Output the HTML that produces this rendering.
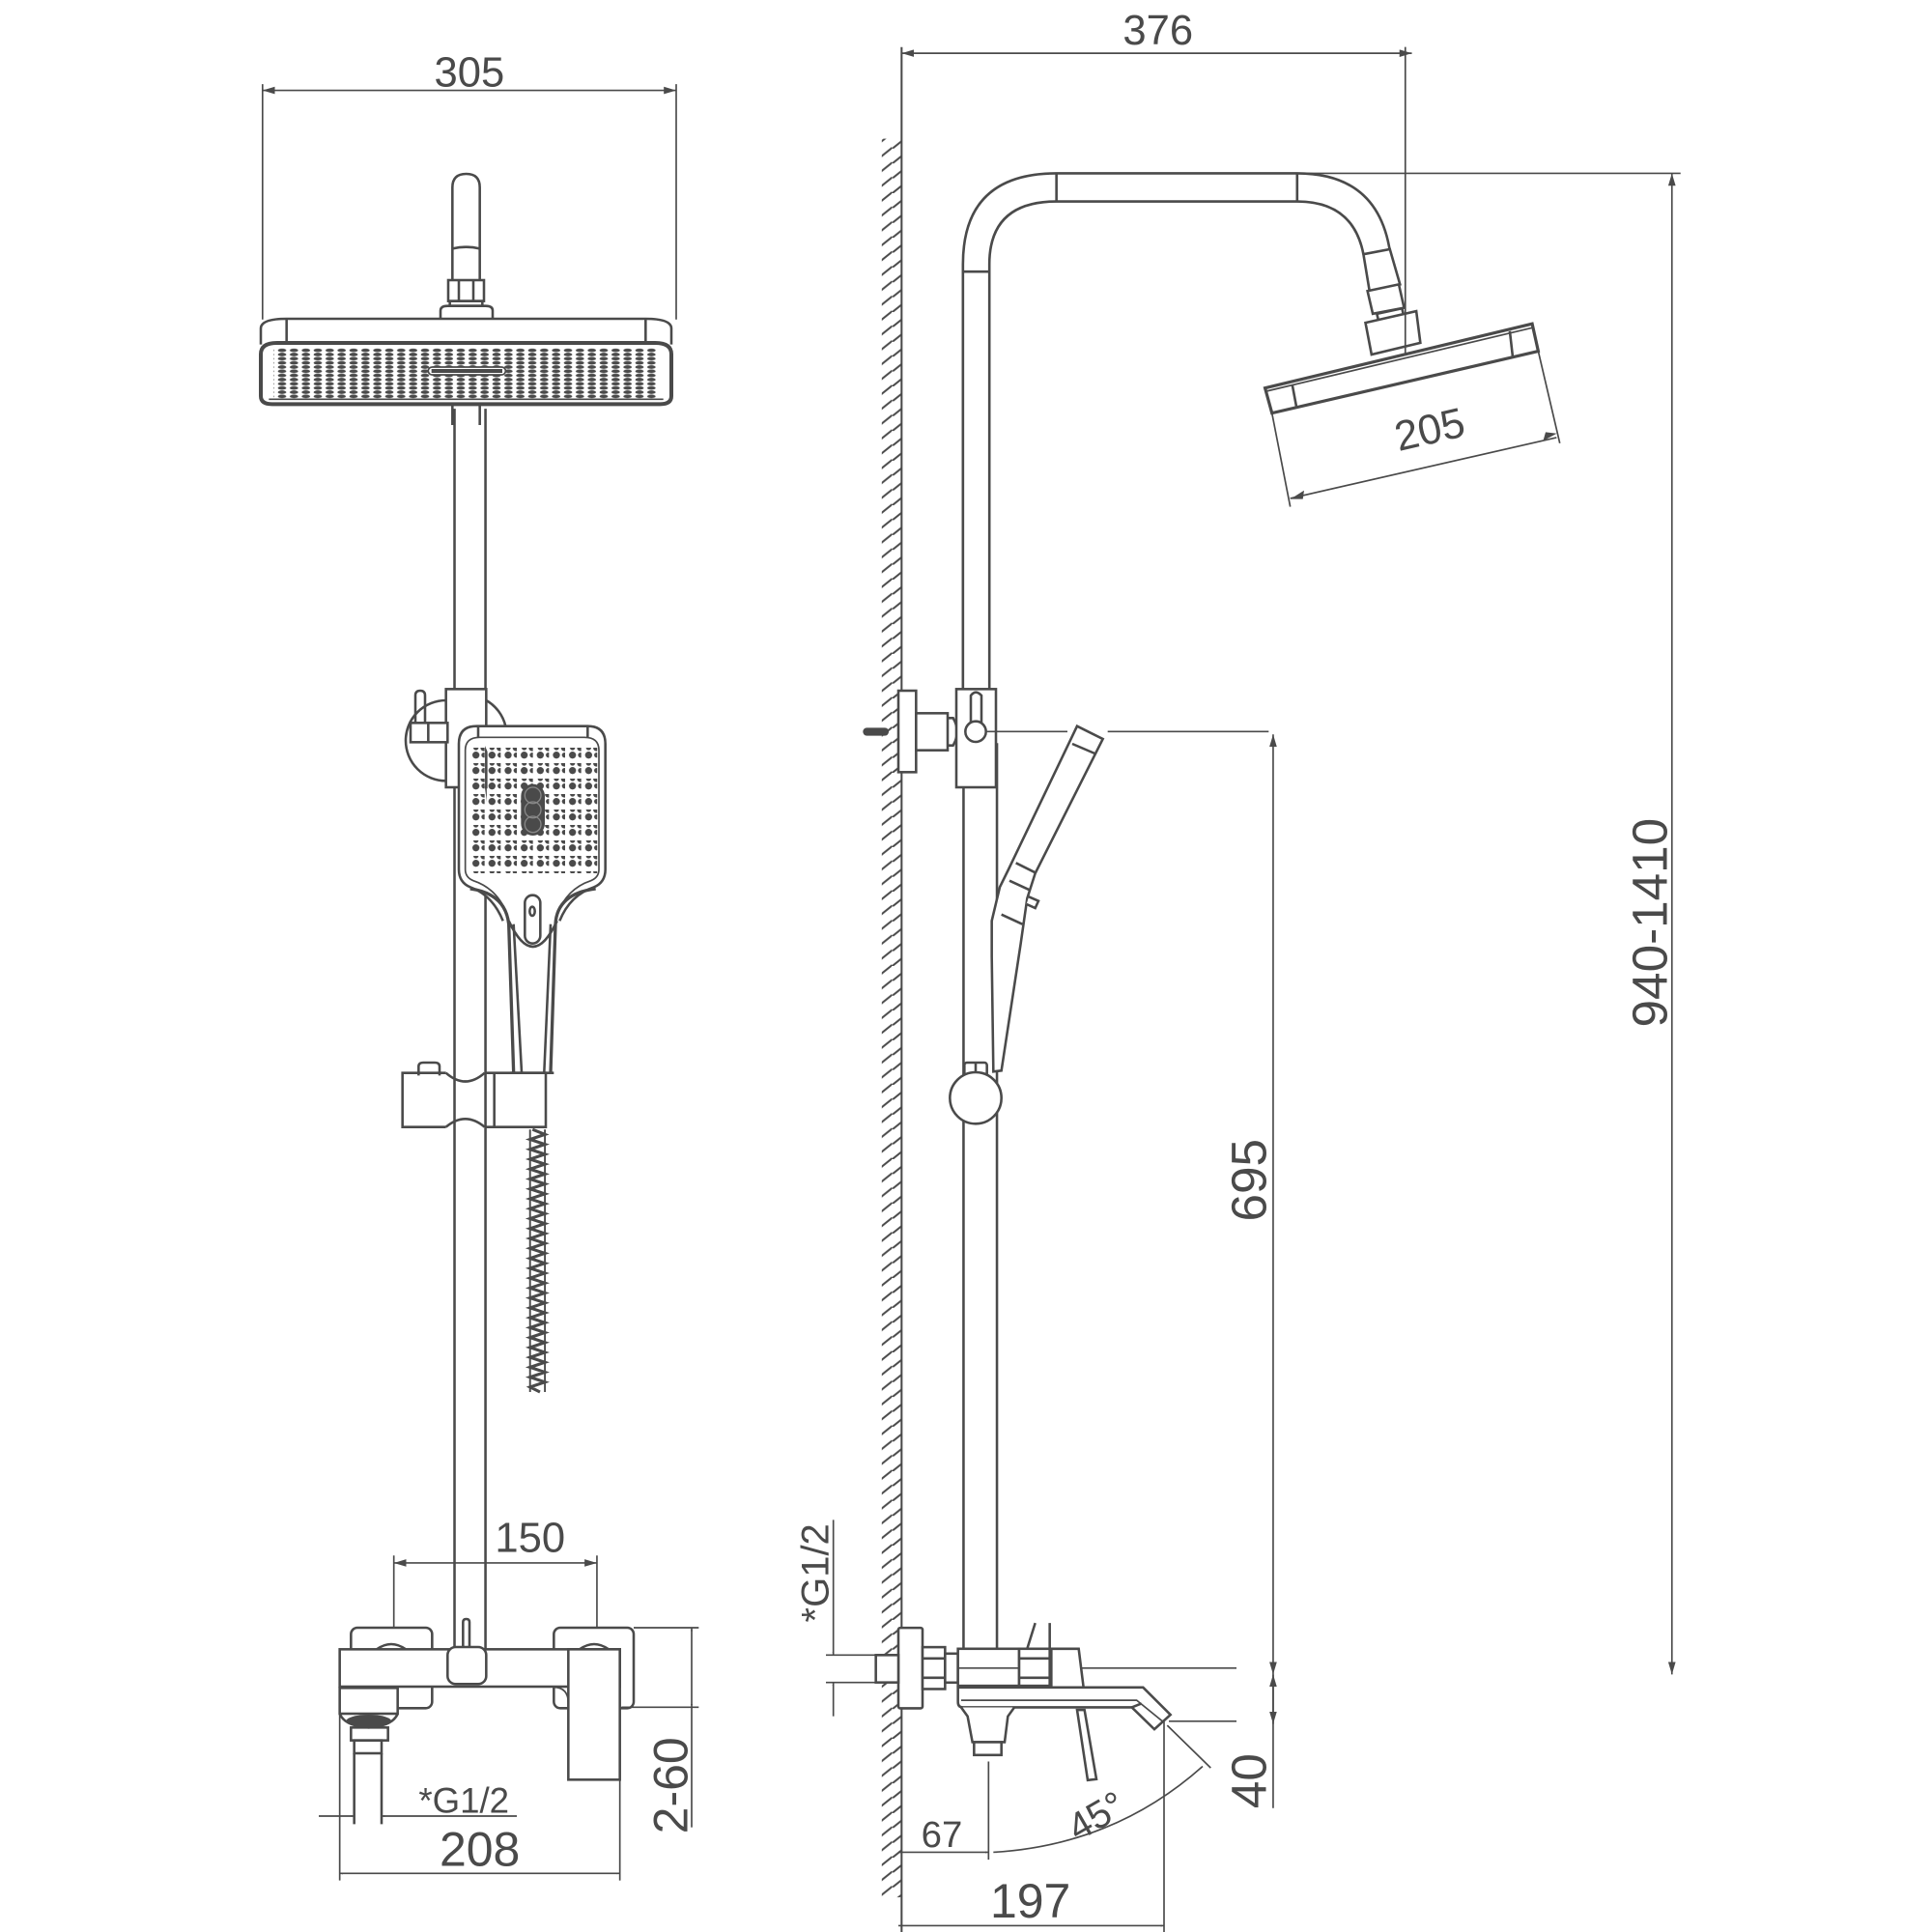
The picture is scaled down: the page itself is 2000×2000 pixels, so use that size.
<!DOCTYPE html>
<html><head><meta charset="utf-8"><style>
html,body{margin:0;padding:0;background:#fff}
svg{display:block}
text{font-family:"Liberation Sans",sans-serif;fill:#4a4a4a;stroke:none}
</style></head><body>
<svg width="2000" height="2000" viewBox="0 0 1560 1560" xmlns="http://www.w3.org/2000/svg">
<defs>
<marker id="a" viewBox="0 0 10 6" refX="10" refY="3" markerWidth="10" markerHeight="6" markerUnits="userSpaceOnUse" orient="auto-start-reverse"><path d="M0,0 L10,3 L0,6 Z" fill="#4a4a4a"/></marker>
<pattern id="hatch" width="16" height="12" patternUnits="userSpaceOnUse"><path d="M-2,14 L18,-2 M-2,26 L18,10" stroke="#4a4a4a" stroke-width="1.6"/></pattern>
<pattern id="hd" width="37" height="13" patternUnits="userSpaceOnUse" x="108" y="182"><ellipse cx="18" cy="6" rx="13" ry="5.5" fill="#4a4a4a"/></pattern>
<pattern id="hs" width="50" height="48" patternUnits="userSpaceOnUse" x="195" y="222"><circle cx="23" cy="23" r="11" fill="#4a4a4a"/><circle cx="48" cy="23" r="8" fill="#4a4a4a"/><circle cx="23" cy="0" r="8" fill="#4a4a4a"/><circle cx="48" cy="0" r="11" fill="#4a4a4a"/></pattern>
</defs>
<g fill="none" stroke="#4a4a4a" stroke-width="2">

<!-- ===== LEFT VIEW ===== -->
<line x1="212" y1="68" x2="212" y2="258" stroke-width="1.3"/>
<line x1="546" y1="68" x2="546" y2="258" stroke-width="1.3"/>
<line x1="212" y1="73" x2="546" y2="73" stroke-width="1.3" marker-start="url(#a)" marker-end="url(#a)"/>
<text x="379" y="70" font-size="34" text-anchor="middle">305</text>

<g transform="translate(312,117) scale(0.26)" stroke-width="7.7">
<path d="M205,420 V132 Q205,90 248,90 Q290,90 290,132 V420"/>
<path d="M205,322 Q248,312 290,322"/>
<rect x="192" y="420" width="111" height="65"/>
<line x1="225" y1="420" x2="225" y2="485"/><line x1="270" y1="420" x2="270" y2="485"/>
<rect x="197" y="485" width="101" height="15"/>
<path d="M168,540 V515 Q168,500 190,500 H308 Q330,500 330,515 V540"/>
</g>

<g transform="translate(195,234) scale(0.26)" stroke-width="7.7">
<path d="M60,170 V120 Q60,90 140,90 H1255 Q1335,90 1335,120 V170"/>
<line x1="140" y1="92" x2="140" y2="165"/><line x1="1255" y1="92" x2="1255" y2="165"/>
<path d="M60,200 Q60,165 110,165 H1285 Q1335,165 1335,200 V330 Q1335,355 1300,355 H95 Q60,355 60,330 Z" stroke-width="12"/>
<rect x="100" y="182" width="1195" height="160" fill="url(#hd)" stroke="none"/>
<path d="M85,340 H1310" stroke-width="5"/>
<rect x="580" y="240" width="240" height="24" rx="12" fill="#fff" stroke-width="5"/>
<rect x="590" y="246" width="220" height="12" fill="#4a4a4a" stroke="none"/>
<path d="M655,355 V420 M740,355 V420"/>
</g>

<line x1="367" y1="330" x2="367" y2="1332"/>
<line x1="392" y1="330" x2="392" y2="1332"/>

<g transform="translate(327.6,546) scale(0.26)" stroke-width="7.7">
<path d="M125,75 A125,125 0 0 0 125,325" />
<path d="M250,75 A125,125 0 0 1 310,155" />
<rect x="125" y="40" width="125" height="305" fill="#fff"/>
<rect x="15" y="145" width="115" height="60" fill="#fff"/>
<line x1="70" y1="145" x2="70" y2="205"/>
<path d="M30,145 V60 Q30,45 45,45 Q60,45 60,60 V145"/>
<path d="M220,155 H565 Q620,155 620,210 V600 Q620,640 585,655 Q510,680 478,760 M220,155 Q165,155 165,210 V600 Q165,640 200,655 Q270,680 302,760" fill="#fff"/>
<path d="M230,190 H555 Q600,190 600,230 V600 Q600,625 575,635 Q500,660 470,740 M230,190 Q185,190 185,230 V600 Q185,625 210,635 Q285,660 315,740" stroke-width="5"/>
<line x1="225" y1="155" x2="225" y2="190"/><line x1="565" y1="155" x2="565" y2="190"/>
<rect x="195" y="212" width="400" height="400" fill="url(#hs)" stroke="none"/>
<rect x="358" y="335" width="74" height="160" rx="37" fill="#4a4a4a" stroke="none"/>
<circle cx="395" cy="370" r="25" stroke="#888" stroke-width="4"/>
<circle cx="395" cy="415" r="25" stroke="#888" stroke-width="4"/>
<circle cx="395" cy="460" r="25" stroke="#888" stroke-width="4"/>
</g>

<g transform="translate(312,717.6) scale(0.26)" stroke-width="7.7">
<path d="M260,0 Q370,15 380,110 L395,570 M650,0 Q530,15 525,110 L510,570" stroke-width="10"/>
<path d="M380,100 Q455,260 530,100" stroke-width="8"/>
<path d="M395,110 L420,570 M510,110 L490,570"/>
<rect x="430" y="20" width="48" height="150" rx="24" fill="#fff"/>
<ellipse cx="453" cy="70" rx="8" ry="14"/>
<line x1="385" y1="572" x2="520" y2="572"/>
<path d="M185,572 H50 V740 H185 M305,572 H495 V740 H305"/>
<path d="M185,572 Q245,625 305,572 M185,740 Q245,690 305,740"/>
<line x1="335" y1="572" x2="335" y2="740"/>
<path d="M100,580 V552 Q100,540 115,540 H150 Q165,540 165,552 V580"/>
</g>
<path d="M430,912 L440,916 L428,920 L440,924 L428,928 L440,932 L428,936 L440,940 L428,944 L440,948 L428,952 L440,956 L428,960 L440,964 L428,968 L440,972 L428,976 L440,980 L428,984 L440,988 L428,992 L440,996 L428,1000 L440,1004 L428,1008 L440,1012 L428,1016 L440,1020 L428,1024 L440,1028 L428,1032 L440,1036 L428,1040 L440,1044 L428,1048 L440,1052 L428,1056 L440,1060 L428,1064 L440,1068 L428,1072 L440,1076 L428,1080 L440,1084 L428,1088 L440,1092 L428,1096 L440,1100 L428,1104 L440,1108 L428,1112 L440,1116 L428,1120 L436,1124" stroke-width="2.4"/>
<line x1="428" y1="912" x2="428" y2="1124" stroke-width="1.5"/>
<line x1="440" y1="912" x2="440" y2="1124" stroke-width="1.5"/>

<line x1="318" y1="1256" x2="318" y2="1314" stroke-width="1.3"/>
<line x1="482" y1="1256" x2="482" y2="1314" stroke-width="1.3"/>
<line x1="318" y1="1262" x2="482" y2="1262" stroke-width="1.3" marker-start="url(#a)" marker-end="url(#a)"/>
<text x="428" y="1253" font-size="34" text-anchor="middle">150</text>

<g transform="translate(265.2,1287) scale(0.26)" stroke-width="7.7">
<rect x="70" y="105" width="252" height="250" rx="20" fill="#fff"/>
<rect x="700" y="105" width="248" height="250" rx="20" fill="#fff"/>
<path d="M150,172 Q195,140 240,172 M780,172 Q825,140 870,172"/>
<rect x="35" y="172" width="870" height="116" fill="#fff"/>
<path d="M418,175 V88 Q418,78 428,78 Q438,78 438,88 V175"/>
<rect x="370" y="165" width="120" height="115" rx="25" fill="#fff"/>
<path d="M700,290 Q745,290 745,340" stroke-width="5"/>
<rect x="745" y="172" width="160" height="405" fill="#fff"/>
<rect x="35" y="292" width="180" height="80" fill="#fff"/>
<path d="M35,372 Q50,410 125,415 Q200,410 215,372"/>
<ellipse cx="125" cy="395" rx="70" ry="20" fill="#4a4a4a" stroke="none"/>
<rect x="70" y="415" width="115" height="40"/>
<rect x="80" y="455" width="85" height="40"/>
<line x1="80" y1="495" x2="80" y2="715"/><line x1="165" y1="495" x2="165" y2="715"/>
<line x1="-30" y1="690" x2="80" y2="690" stroke-width="5" marker-end="url(#a)"/>
<line x1="585" y1="690" x2="165" y2="690" stroke-width="5" marker-end="url(#a)"/>
<text x="280" y="680" font-size="110">*G1/2</text>
<line x1="35" y1="290" x2="35" y2="890" stroke-width="5"/>
<line x1="905" y1="577" x2="905" y2="890" stroke-width="5"/>
<line x1="35" y1="868" x2="905" y2="868" stroke-width="5" marker-start="url(#a)" marker-end="url(#a)"/>
<text x="470" y="845" font-size="150" text-anchor="middle">208</text>
<line x1="948" y1="105" x2="1150" y2="105" stroke-width="5"/>
<line x1="910" y1="352" x2="1150" y2="352" stroke-width="5"/>
<line x1="1128" y1="105" x2="1128" y2="352" stroke-width="5" marker-start="url(#a)" marker-end="url(#a)"/>
<line x1="1128" y1="352" x2="1128" y2="725" stroke-width="5"/>
<text transform="translate(1115,595) rotate(-90)" font-size="150" text-anchor="middle">2-60</text>
</g>

<!-- ===== RIGHT VIEW ===== -->
<line x1="728" y1="38" x2="728" y2="1565" stroke-width="1.6"/>
<rect x="712" y="112" width="16" height="1420" fill="url(#hatch)" stroke="none"/>
<line x1="728" y1="43" x2="1140" y2="43" stroke-width="1.3" marker-start="url(#a)" marker-end="url(#a)"/>
<text x="935" y="36" font-size="34" text-anchor="middle">376</text>

<g transform="translate(764.4,124.3) scale(0.3283,0.27)">
<g stroke-width="2.6">
<path vector-effect="non-scaling-stroke" d="M40,1800 V330 Q40,58 270,58 H862 Q1060,58 1090,290"/>
<path vector-effect="non-scaling-stroke" d="M105,1800 V330 Q105,142 270,142 H862 Q1000,142 1025,300"/>
<line vector-effect="non-scaling-stroke" x1="40" y1="352" x2="105" y2="352"/>
<line vector-effect="non-scaling-stroke" x1="270" y1="58" x2="270" y2="142"/>
<line vector-effect="non-scaling-stroke" x1="862" y1="58" x2="862" y2="142"/>
<line vector-effect="non-scaling-stroke" x1="862" y1="58" x2="1805" y2="58" stroke-width="1.7"/>
<polygon vector-effect="non-scaling-stroke" points="1025,300 1090,285 1115,390 1040,410" fill="#fff"/>
<polygon vector-effect="non-scaling-stroke" points="1035,410 1112,390 1125,460 1048,478" fill="#fff"/>
<polygon vector-effect="non-scaling-stroke" points="1058,478 1120,462 1124,484 1062,498" fill="#fff"/>
<polygon vector-effect="non-scaling-stroke" points="1030,505 1155,470 1165,565 1045,600" fill="#fff"/>
<line vector-effect="non-scaling-stroke" x1="1128" y1="-320" x2="1128" y2="685" stroke-width="1.7"/>
<polygon vector-effect="non-scaling-stroke" points="783,700 1440,508 1455,590 800,775" fill="#fff" stroke-width="3.2"/>
<line vector-effect="non-scaling-stroke" x1="785" y1="710" x2="1440" y2="520" stroke-width="1.7"/>
<line vector-effect="non-scaling-stroke" x1="850" y1="690" x2="860" y2="755"/>
<line vector-effect="non-scaling-stroke" x1="1385" y1="530" x2="1392" y2="605"/>
<line vector-effect="non-scaling-stroke" x1="800" y1="775" x2="845" y2="1055" stroke-width="1.7"/>
<line vector-effect="non-scaling-stroke" x1="1455" y1="590" x2="1508" y2="865" stroke-width="1.7"/>
<line vector-effect="non-scaling-stroke" x1="845" y1="1030" x2="1500" y2="848" stroke-width="1.7"/>
</g>
</g>
<path d="M1042,403 L1053,396 L1052,403 Z M1257,350 L1246,356 L1248,349 Z" fill="#4a4a4a" stroke="none"/>
<text transform="translate(1157,358) rotate(-13)" font-size="34" text-anchor="middle">205</text>

<!-- column lower -->
<line x1="778" y1="600" x2="778" y2="1345"/>
<line x1="805" y1="600" x2="805" y2="1345"/>

<g transform="translate(686.4,546) scale(0.26)" stroke-width="7.7">
<rect x="150" y="45" width="55" height="253" fill="#fff"/>
<rect x="205" y="115" width="98" height="115" fill="#fff"/>
<path d="M303,130 H320 Q345,172 320,215 H303"/>
<rect x="40" y="160" width="80" height="25" rx="12" fill="#4a4a4a" stroke="none"/>
<rect x="330" y="40" width="123" height="305" fill="#fff"/>
<path d="M375,150 V60 Q390,40 408,60 V150"/>
<circle cx="390" cy="172" r="32" fill="#fff"/>
<line x1="425" y1="172" x2="675" y2="172" stroke-width="5"/>
<line x1="800" y1="172" x2="1300" y2="172" stroke-width="5"/>
<path d="M705,155 L785,195 L575,612 L550,690 L530,830 L470,1225 L445,1228 L440,870 L440,760 L465,655 L492,600 Z" fill="#fff"/>
<line x1="690" y1="210" x2="760" y2="240"/>
<line x1="515" y1="580" x2="575" y2="610"/>
<line x1="495" y1="635" x2="560" y2="665"/>
<line x1="470" y1="740" x2="535" y2="770"/>
<path d="M555,685 L585,698 L575,720 L548,708" fill="#fff"/>
<rect x="355" y="1200" width="70" height="45" rx="8" fill="#fff"/>
<line x1="390" y1="1200" x2="390" y2="1245"/>
<circle cx="390" cy="1310" r="80" fill="#fff"/>
</g>

<line x1="1028" y1="593" x2="1028" y2="1352" stroke-width="1.3" marker-start="url(#a)" marker-end="url(#a)"/>
<text transform="translate(1022,953) rotate(-90)" font-size="40" text-anchor="middle">695</text>
<line x1="1350" y1="140" x2="1350" y2="1352" stroke-width="1.3" marker-start="url(#a)" marker-end="url(#a)"/>
<text transform="translate(1346,745) rotate(-90)" font-size="40" text-anchor="middle">940-1410</text>
<line x1="1028" y1="1352" x2="1028" y2="1460" stroke-width="1.3"/>
<line x1="1028" y1="1352" x2="1028" y2="1392" stroke-width="1.3" marker-start="url(#a)" marker-end="url(#a)"/>
<text transform="translate(1022,1438) rotate(-90)" font-size="40" text-anchor="middle">40</text>

<g transform="translate(702,1310.5) scale(0.26)" stroke-width="7.7">
<rect x="25" y="100" width="65" height="80"/>
<rect x="90" y="15" width="75" height="250" rx="6" fill="#fff"/>
<rect x="165" y="75" width="70" height="130" fill="#fff"/>
<line x1="165" y1="110" x2="235" y2="110"/><line x1="165" y1="170" x2="235" y2="170"/>
<rect x="235" y="95" width="40" height="90" fill="#fff"/>
<rect x="275" y="80" width="190" height="115" fill="#fff"/>
<line x1="275" y1="140" x2="1140" y2="140" stroke-width="5"/>
<path d="M490,80 L515,0 M560,80 V0"/>
<rect x="465" y="80" width="95" height="115" fill="#fff"/>
<line x1="465" y1="110" x2="560" y2="110"/><line x1="465" y1="170" x2="560" y2="170"/>
<path d="M565,80 H650 L665,200 H565 Z" fill="#fff"/>
<path d="M275,200 H850 L935,285 L885,330 L815,262 H290 Q275,262 275,245 Z" fill="#fff"/>
<path d="M285,240 H830 L910,305" stroke-width="5"/>
<line x1="815" y1="262" x2="845" y2="250"/>
<path d="M285,262 L305,290 L320,370 H420 L430,290 L450,262" fill="#fff"/>
<rect x="325" y="370" width="85" height="40" fill="#fff"/>
<polygon points="645,270 668,270 705,485 678,488" fill="#fff"/>
<line x1="930" y1="305" x2="1140" y2="305" stroke-width="5"/>
<line x1="915" y1="305" x2="915" y2="960" stroke-width="5"/>
<line x1="370" y1="430" x2="370" y2="735" stroke-width="5"/>
<line x1="90" y1="712" x2="370" y2="712" stroke-width="5" marker-start="url(#a)" marker-end="url(#a)"/>
<text x="225" y="695" font-size="115" text-anchor="middle">67</text>
<path d="M385,712 Q760,690 1035,445" stroke-width="5" marker-start="url(#a)" marker-end="url(#a)"/>
<line x1="925" y1="318" x2="1060" y2="450" stroke-width="5"/>
<text transform="translate(725,635) rotate(-30)" font-size="120" text-anchor="middle">45°</text>
<line x1="90" y1="940" x2="915" y2="940" stroke-width="5" marker-start="url(#a)" marker-end="url(#a)"/>
<text x="500" y="915" font-size="150" text-anchor="middle">197</text>
</g>

<g transform="translate(639.6,1201.2) scale(0.26)" stroke-width="5">
<line x1="128" y1="100" x2="128" y2="520" marker-end="url(#a)"/>
<line x1="128" y1="710" x2="128" y2="605" marker-end="url(#a)"/>
<line x1="105" y1="520" x2="265" y2="520"/>
<line x1="105" y1="605" x2="265" y2="605"/>
<rect x="260" y="520" width="70" height="85" stroke-width="7.7" fill="#fff"/>
<text transform="translate(112,265) rotate(-90)" font-size="120" text-anchor="middle">*G1/2</text>
</g>

</g>
</svg>
</body></html>
